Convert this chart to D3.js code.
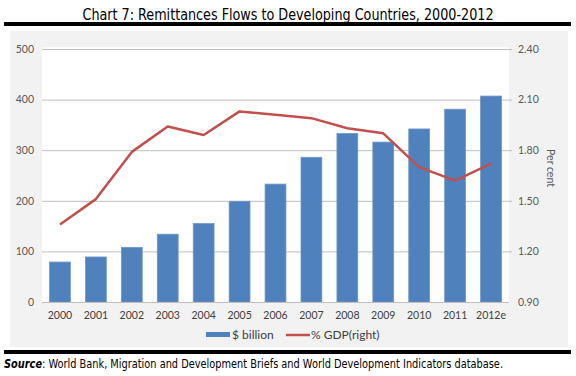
<!DOCTYPE html>
<html><head><meta charset="utf-8">
<script src="https://cdnjs.cloudflare.com/ajax/libs/d3/7.8.5/d3.min.js"></script>
<style>body{margin:0;background:#fff}svg{display:block}</style>
</head><body>
<svg id="c" width="576" height="376"></svg>
<script>
const years = ["2000","2001","2002","2003","2004","2005","2006","2007","2008","2009","2010","2011","2012e"];
const billions = [79, 89, 108, 134, 155, 199, 233, 286, 333, 316, 342, 381, 407];
const gdpPct = [1.36, 1.51, 1.79, 1.94, 1.89, 2.03, 2.01, 1.99, 1.93, 1.90, 1.70, 1.62, 1.72];
const leftTicks = [0, 100, 200, 300, 400, 500];
const rightTicks = [0.90, 1.20, 1.50, 1.80, 2.10, 2.40];
const titleText = "Chart 7: Remittances Flows to Developing Countries, 2000-2012";
const seriesNames = ["$ billion", "% GDP(right)"];

const svg = d3.select("#c");
const font = "'Liberation Sans Narrow','DejaVu Sans Condensed','Liberation Sans',sans-serif";
const axFont = "Lato,'Open Sans','Liberation Sans',sans-serif";

// title
svg.append("text").attr("x", 288).attr("y", 19.5).attr("text-anchor", "middle")
  .attr("font-family", font).attr("font-size", 16).attr("fill", "#000")
  .attr("textLength", 411).attr("lengthAdjust", "spacingAndGlyphs").text(titleText);
svg.append("rect").attr("x", 4).attr("y", 22).attr("width", 567).attr("height", 4).attr("fill", "#000");

// chart panel
svg.append("rect").attr("x", 10).attr("y", 31).attr("width", 558).attr("height", 316).attr("fill", "#f2f2f2");

const L = 42, R = 509, T = 49, B = 302;
svg.append("rect").attr("x", L).attr("y", 47.5).attr("width", R - L).attr("height", B - 47.5).attr("fill", "#fff");

const x = d3.scaleBand().domain(years).range([L, R]).paddingInner(0.42).paddingOuter(0.21);
const yL = d3.scaleLinear().domain([0, 500]).range([B, T]);
const yR = d3.scaleLinear().domain([0.9, 2.4]).range([B, T]);

// gridlines
svg.append("g").selectAll("line").data(leftTicks.slice(1)).join("line")
  .attr("x1", L).attr("x2", R + 3).attr("y1", d => yL(d) + 0.5).attr("y2", d => yL(d) + 0.5)
  .attr("stroke", "#bfbfbf").attr("stroke-width", 1);

// left axis labels
const gl = svg.append("g").attr("transform", `translate(${L},0)`)
  .call(d3.axisLeft(yL).tickValues(leftTicks).tickSize(0).tickPadding(8));
gl.select(".domain").remove();
gl.selectAll("text").attr("font-family", axFont).attr("font-size", 10.5).attr("fill", "#595959");

// right axis labels
const gr = svg.append("g").attr("transform", `translate(${R},0)`)
  .call(d3.axisRight(yR).tickValues(rightTicks).tickFormat(d3.format(".2f")).tickSize(0).tickPadding(9));
gr.select(".domain").remove();
gr.selectAll("text").attr("font-family", axFont).attr("font-size", 10.5).attr("fill", "#595959");

svg.append("text").attr("transform", "translate(547,168) rotate(90)").attr("text-anchor", "middle")
  .attr("font-family", axFont).attr("font-size", 10.5).attr("fill", "#595959").text("Per cent");

// bars
svg.append("g").selectAll("rect").data(years).join("rect")
  .attr("x", d => x(d)).attr("width", x.bandwidth())
  .attr("y", (d, i) => yL(billions[i])).attr("height", (d, i) => B - yL(billions[i]))
  .attr("fill", "#4f81bd").attr("stroke", "#6f95c8").attr("stroke-width", 0.8);

// bottom axis
svg.append("line").attr("x1", L).attr("x2", R).attr("y1", B + 0.5).attr("y2", B + 0.5)
  .attr("stroke", "#bfbfbf").attr("stroke-width", 1.2);
const gb = svg.append("g").attr("transform", `translate(0,${B})`)
  .call(d3.axisBottom(x).tickSize(0).tickPadding(10));
gb.select(".domain").remove();
gb.selectAll("text").attr("font-family", axFont).attr("font-size", 10.5).attr("fill", "#404040");

// line
const line = d3.line().x((d, i) => x(years[i]) + x.bandwidth() / 2).y(d => yR(d));
svg.append("path").datum(gdpPct).attr("d", line).attr("fill", "none")
  .attr("stroke", "#c0504d").attr("stroke-width", 2.5).attr("stroke-linejoin", "round");

// legend
svg.append("rect").attr("x", 206).attr("y", 332).attr("width", 24).attr("height", 5).attr("fill", "#4f81bd");
svg.append("text").attr("x", 232).attr("y", 339).attr("font-family", axFont).attr("font-size", 12)
  .attr("fill", "#404040").text(seriesNames[0]);
svg.append("line").attr("x1", 286).attr("x2", 310).attr("y1", 335).attr("y2", 335)
  .attr("stroke", "#c0504d").attr("stroke-width", 2.5);
svg.append("text").attr("x", 311).attr("y", 339).attr("font-family", axFont).attr("font-size", 12)
  .attr("fill", "#404040").text(seriesNames[1]);

// bottom rule and source
svg.append("rect").attr("x", 4).attr("y", 350).attr("width", 567).attr("height", 4).attr("fill", "#000");
const src = svg.append("text").attr("x", 4).attr("y", 368).attr("font-family", font).attr("font-size", 11.5)
  .attr("fill", "#000").attr("textLength", 499).attr("lengthAdjust", "spacingAndGlyphs");
src.append("tspan").attr("font-weight", "bold").attr("font-style", "italic").text("Source");
src.append("tspan").text(": World Bank, Migration and Development Briefs and World Development Indicators database.");
</script>
</body></html>
